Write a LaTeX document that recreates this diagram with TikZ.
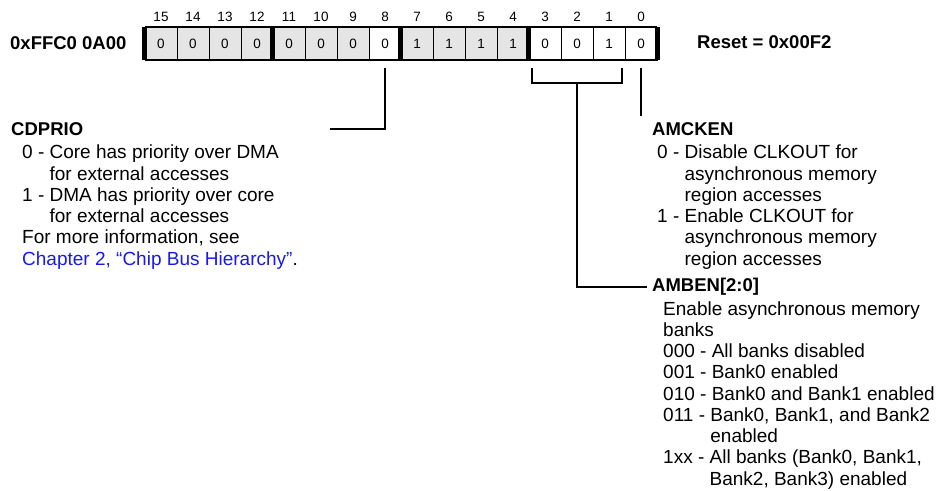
\documentclass[tikz,border=0pt]{standalone}
\usepackage{fontspec}
\setmainfont{Liberation Sans}
\usetikzlibrary{calc}
\definecolor{cellgray}{RGB}{229,229,229}
\definecolor{linkblue}{RGB}{25,25,235}
\tikzset{
  bitcell/.style   = {draw=black, line width=0.8pt, minimum width=32pt,
                      minimum height=33pt, inner sep=0pt,
                      font=\fontsize{13.5}{15}\selectfont},
  bitnum/.style    = {anchor=base, inner sep=0pt, font=\fontsize{13.5}{15}\selectfont},
  fieldname/.style = {anchor=base west, inner sep=0pt,
                      font=\fontsize{18.5}{21}\selectfont\bfseries},
  fielddesc/.style = {anchor=base west, inner sep=0pt, align=left,
                      font=\fontsize{19}{21.25}\selectfont},
  wire/.style      = {line width=2pt},
}

\begin{document}
\begin{tikzpicture}[
    x=1pt, y=-1pt,
    nibble/.style={line width=5pt},
    frame/.style={line width=2pt}
]
\useasboundingbox (0,0) rectangle (944,490);

\foreach \b/\val/\shade in {15/0/cellgray, 14/0/cellgray, 13/0/cellgray, 12/0/cellgray,
                            11/0/cellgray, 10/0/cellgray, 9/0/cellgray, 8/0/white,
                            7/1/cellgray, 6/1/cellgray, 5/1/cellgray, 4/1/cellgray,
                            3/0/white, 2/0/white, 1/1/white, 0/0/white}{
  \node[bitcell, fill=\shade] (b\b) at ({161+32*(15-\b)},43.5) {\val};
  \node[bitnum] (n\b) at ({161+32*(15-\b)},21) {\b};
}

\draw[frame] (b15.north west) -- (b0.north east);
\draw[frame] (b15.south west) -- (b0.south east);
\foreach \ta/\tb in {b15.north west/b15.south west, b11.north west/b11.south west,
                     b7.north west/b7.south west, b3.north west/b3.south west,
                     b0.north east/b0.south east}
  \draw[nibble] (\ta) -- (\tb);

\node[fieldname] (addr) at (10,49.5) {0xFFC0 0A00};
\node[fieldname] (reset) at (697,48.5) {Reset = 0x00F2};

% description blocks sit on the baseline of their last line
\node[fieldname] (cdprio) at (11,135) {CDPRIO};
\node[fielddesc] (cdprio-desc) at (22,265) {
0 - Core has priority over DMA\\
\phantom{0 - }for external accesses\\
1 - DMA has priority over core\\
\phantom{1 - }for external accesses\\
For more information, see\\
{\color{linkblue}Chapter 2, “Chip Bus Hierarchy”}.
};

\node[fieldname] (amcken) at (652,135) {AMCKEN};
\node[fielddesc] (amcken-desc) at (657,265) {
0 - Disable CLKOUT for\\
\phantom{0 - }asynchronous memory\\
\phantom{0 - }region accesses\\
1 - Enable CLKOUT for\\
\phantom{1 - }asynchronous memory\\
\phantom{1 - }region accesses
};

\node[fieldname] (amben) at (652,291.5) {AMBEN[2:0]};
\node[fielddesc] (amben-desc) at (663,485) {
Enable asynchronous memory\\
banks\\
000 - All banks disabled\\
001 - Bank0 enabled\\
010 - Bank0 and Bank1 enabled\\
011 - Bank0, Bank1, and Bank2\\
\phantom{011 - }enabled\\
1xx - All banks (Bank0, Bank1,\\
\phantom{1xx - }Bank2, Bank3) enabled
};

\coordinate (cdprio-tap) at (330,129);
\draw[wire] ([yshift=-8pt]b8.south) |- (cdprio-tap);

\coordinate (amben-l) at ([xshift=3pt,yshift=-8pt]b3.south west);
\coordinate (amben-r) at ([xshift=-3pt,yshift=-8pt]b1.south east);
\coordinate (amben-mid) at ($(amben-l)!0.5!(amben-r)+(0,15)$);
\draw[wire] (amben-l) -- ++(0,15) -| (amben-r);
\draw[wire, shorten >=5pt] (amben-mid) |- (amben.west);

\draw[wire, shorten >=6pt] ([yshift=-8pt]b0.south) -- (b0.south |- amcken.north);

\end{tikzpicture}
\end{document}
